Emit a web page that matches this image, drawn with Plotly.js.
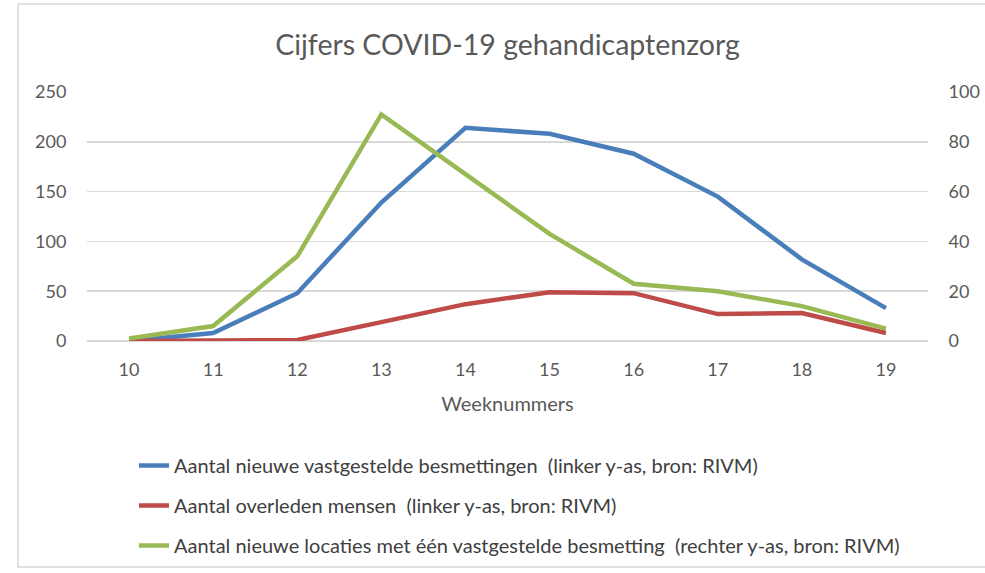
<!DOCTYPE html>
<html>
<head>
<meta charset="utf-8">
<script src="https://cdn.plot.ly/plotly-3.0.1.min.js"></script>
<style>html,body{margin:0;padding:0;background:#fff;}#chart{width:985px;height:573px;}</style>
</head>
<body>
<div id="chart"></div>
<script>
// Data
const weeks = [10, 11, 12, 13, 14, 15, 16, 17, 18, 19];
const besmettingen = [0, 8, 48, 139, 214, 208, 188, 145, 82, 33];      // left axis
const overleden = [0, 0, 1, 19, 37, 49, 48, 27, 28, 8];                // left axis
const locaties = [1, 6, 34, 91, 67, 43, 23, 20, 14, 5];                // right axis
const seriesNames = [
  "Aantal nieuwe vastgestelde besmettingen  (linker y-as, bron: RIVM)",
  "Aantal overleden mensen  (linker y-as, bron: RIVM)",
  "Aantal nieuwe locaties met één vastgestelde besmetting  (rechter y-as, bron: RIVM)"
];
const leftTicks = [0, 50, 100, 150, 200, 250];
const rightTicks = [0, 20, 40, 60, 80, 100];

const FONT = "Lato, 'Open Sans', sans-serif";
const W = 985, H = 573;
const L = 87, R = 928, T = 92, B = 341;
const pw = R - L, ph = B - T;

const traces = [
  {x: weeks, y: besmettingen, name: seriesNames[0], yaxis: 'y', legendgroup: 'a',
   mode: 'lines', line: {color: '#4A7EBB', width: 4.5}, cliponaxis: false},
  {x: weeks, y: overleden, name: seriesNames[1], yaxis: 'y', legendgroup: 'b',
   mode: 'lines', line: {color: '#BE4B48', width: 4.5}, cliponaxis: false},
  {x: weeks, y: locaties, name: seriesNames[2], yaxis: 'y2', legendgroup: 'c',
   mode: 'lines', line: {color: '#98B954', width: 4.5}, cliponaxis: false}
];

const layout = {
  width: W, height: H,
  margin: {l: L, r: W - R, t: T, b: H - B, pad: 0, autoexpand: false},
  paper_bgcolor: '#ffffff', plot_bgcolor: '#ffffff',
  font: {family: FONT, color: '#595959'},
  title: {text: 'Cijfers COVID-19 gehandicaptenzorg', font: {family: FONT, size: 28.5, color: '#595959'},
          x: 0.5, xref: 'paper', xanchor: 'center', y: 1 - 45 / H, yref: 'container', yanchor: 'middle'},
  xaxis: {range: [9.5, 19.5], tickvals: weeks, ticktext: weeks.map(String), showgrid: false, zeroline: false,
          showline: false, ticks: 'outside', ticklen: 12, tickcolor: 'rgba(0,0,0,0)',
          tickfont: {family: FONT, size: 18, color: '#595959'}, fixedrange: true,
          title: {text: 'Weeknummers', font: {family: FONT, size: 20, color: '#595959'}, standoff: 18}},
  yaxis: {range: [0, 250], tickvals: leftTicks, showgrid: true, gridcolor: '#D9D9D9', gridwidth: 1.5,
          zeroline: true, zerolinecolor: '#D9D9D9', zerolinewidth: 1.5, showline: false,
          ticks: 'outside', ticklen: 16, tickcolor: 'rgba(0,0,0,0)',
          tickfont: {family: FONT, size: 18, color: '#595959'}},
  yaxis2: {range: [0, 100], tickvals: rightTicks, overlaying: 'y', side: 'right', showgrid: false,
           zeroline: false, showline: false, ticks: 'outside', ticklen: 16, tickcolor: 'rgba(0,0,0,0)',
           tickfont: {family: FONT, size: 18, color: '#595959'}},
  showlegend: true,
  legend: {orientation: 'v', xref: 'container', yref: 'container', x: 134 / W, y: 1 - 446 / H,
           xanchor: 'left', yanchor: 'top', traceorder: 'grouped', tracegroupgap: 11,
           font: {family: FONT, size: 20, color: '#404040'}, bgcolor: 'rgba(0,0,0,0)', itemwidth: 30},
  shapes: [{type: 'rect', xref: 'paper', yref: 'paper',
            x0: (18 - L) / pw, x1: (990 - L) / pw, y0: (B - 567) / ph, y1: (B - 4) / ph,
            line: {color: '#D9D9D9', width: 1.5}, fillcolor: 'rgba(0,0,0,0)', layer: 'below'}]
};

Plotly.newPlot('chart', traces, layout, {displayModeBar: false, staticPlot: true});
</script>
</body>
</html>
